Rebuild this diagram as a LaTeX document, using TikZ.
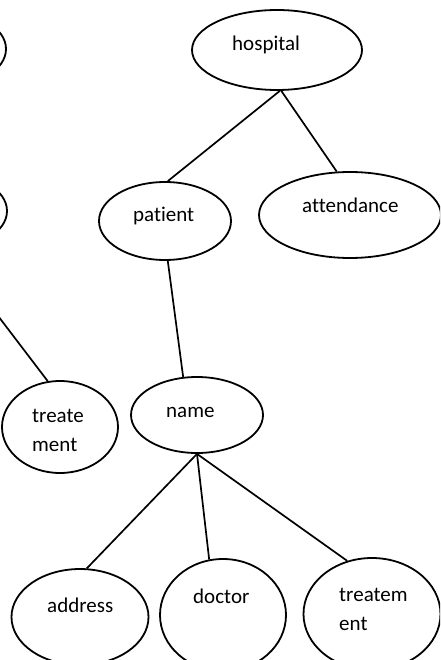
\documentclass[tikz,border=0pt]{standalone}
\usepackage{fontspec}
\setmainfont{Carlito}[Ligatures={NoCommon}]
\usetikzlibrary{shapes.geometric}
\tikzset{
  ent/.style={draw, ellipse, line width=1.8pt, inner sep=0pt},
  txt/.style={anchor=base west, inner sep=0pt, font=\fontsize{21}{29}\selectfont, align=left},
  link/.style={line width=1.7pt}
}
\begin{document}
\begin{tikzpicture}[x=1pt, y=-1pt]
  \useasboundingbox (0,0) rectangle (440,660);
  \clip (0,0) rectangle (440,660);
  \fill[white] (0,0) rectangle (440,660);

  % entity ellipses (centre, width = 2rx, height = 2ry)
  \node[ent, minimum width=120, minimum height=74] (left1) at (-54,49) {};
  \node[ent, minimum width=120, minimum height=74] (left2) at (-53,211) {};
  \node[ent, minimum width=170, minimum height=80] (hospital) at (277,50) {};
  \node[ent, minimum width=132, minimum height=78] (patient) at (165,221) {};
  \node[ent, minimum width=182, minimum height=86] (attendance) at (350,215) {};
  \node[ent, minimum width=116, minimum height=92] (treat1) at (60,427) {};
  \node[ent, minimum width=132, minimum height=76] (name) at (197,415) {};
  \node[ent, minimum width=137, minimum height=96] (address) at (80,617) {};
  \node[ent, minimum width=126, minimum height=112] (doctor) at (223,615) {};
  \node[ent, minimum width=137, minimum height=112] (treat2) at (372,614) {};

  % labels (base anchor sits on the last line's baseline)
  \node[txt] (hospital-t) at (232,51) {hospital};
  \node[txt] (patient-t) at (133,222) {patient};
  \node[txt] (attendance-t) at (302,212) {attendance};
  \node[txt] (treat1-t) at (32,451) {treate\\ment};
  \node[txt] (name-t) at (166,417) {name};
  \node[txt] (address-t) at (47,612) {address};
  \node[txt] (doctor-t) at (193,603) {doctor};
  \node[txt] (treat2-t) at (339,630) {treatem\\ent};

  % connectors
  \draw[link] (hospital.-86) -- (patient.86);
  \draw[link] (hospital.-84) -- (attendance.107);
  \draw[link] (left2.-90) -- (treat1.105);
  \draw[link] (patient.-86) -- (name.110);
  \draw[link] (name.-90) -- (address.82);
  \draw[link] (name.-90) -- (doctor.104);
  \draw[link] (name.-90) -- (treat2.115);
\end{tikzpicture}
\end{document}
